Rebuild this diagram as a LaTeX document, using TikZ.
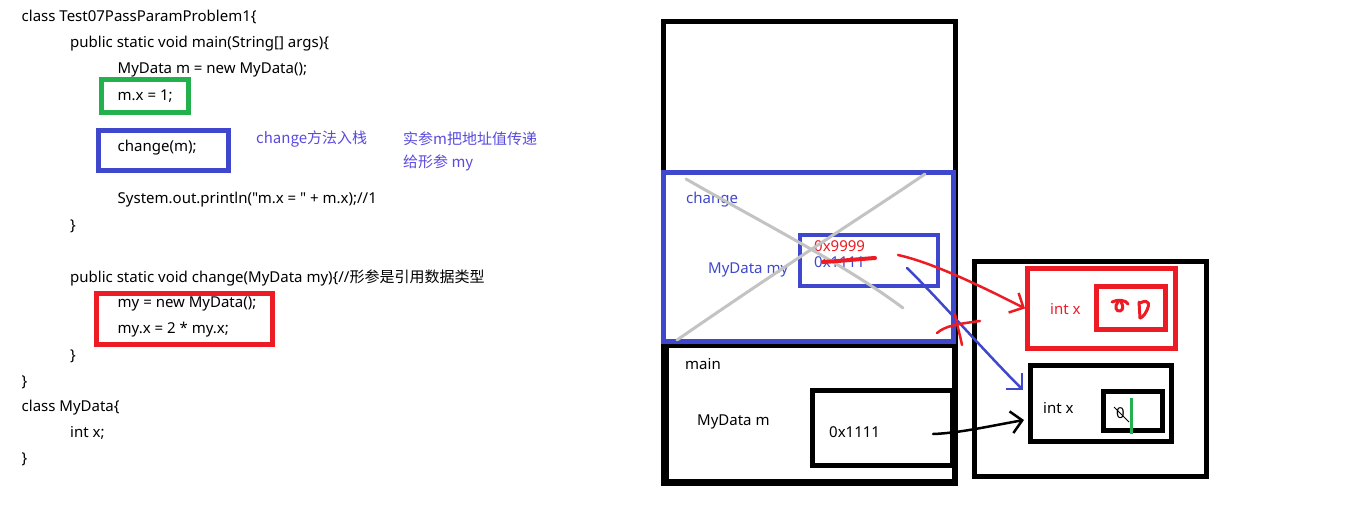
\documentclass[tikz,border=0pt]{standalone}
\usepackage{fontspec}
\setmainfont{Noto Sans}[Ligatures=TeXOff]
\newfontfamily\cjk{Noto Sans CJK SC}
\usetikzlibrary{fit,arrows.meta}
\definecolor{pblue}{HTML}{3F48CC}
\definecolor{pred}{HTML}{ED1C24}
\definecolor{pgreen}{HTML}{22B14C}
\definecolor{tblue}{HTML}{5A4BE0}
\definecolor{xgray}{HTML}{C3C3C3}
\begin{document}
\begin{tikzpicture}[x=1pt,y=-1pt,
  txt/.style={anchor=west, inner sep=0pt, font=\fontsize{15}{18}\selectfont},
  frame/.style={draw, inner sep=0pt, line width=5pt},
  hand/.style={line width=2.5pt, line cap=round, line join=round},
  barb/.style={-{Straight Barb[length=11pt,width=22pt,line width=2.5pt]}}
]
\path[use as bounding box, fill=white] (0,0) rectangle (1352,507);

% ---------- code ----------
\node[txt] (l1) at (21.5,17) {class Test07PassParamProblem1\{};
\node[txt] (l2) at (70,43.5) {public static void main(String[] args)\{};
\node[txt] (l3) at (117.5,69.5) {MyData m = new MyData();};
\node[txt] (l4) at (117.5,96) {m.x = 1;};
\node[txt] (l5) at (117.5,147.5) {change(m);};
\node[txt] (l6) at (117.5,200) {System.out.println("m.x = " + m.x);//1};
\node[txt] (l7) at (70,226) {\}};
\node[txt] (l8) at (70,277.5) {public static void change(MyData my)\{//{\cjk 形参是引用数据类型}};
\node[txt] (l9) at (117.5,303.5) {my = new MyData();};
\node[txt] (l10) at (117.5,329.5) {my.x = 2 * my.x;};
\node[txt] (l11) at (70,356) {\}};
\node[txt] (l12) at (21.5,382) {\}};
\node[txt] (l13) at (21.5,407.5) {class MyData\{};
\node[txt] (l14) at (70,433) {int x;};
\node[txt] (l15) at (21.5,459) {\}};

\node[frame, draw=pgreen, fit={(101.8,79.8) (188.2,112.5)}] (gbox) {};
\node[frame, draw=pblue, fit={(98.5,130.8) (228.2,170.2)}] (bbox) {};
\node[frame, draw=pred, fit={(96.5,293.2) (272.1,344.2)}] (rbox) {};

\node[txt, text=tblue] (n1) at (256,139) {\cjk change方法入栈};
\node[txt, text=tblue] (n2) at (403,139) {\cjk 实参m把地址值传递};
\node[txt, text=tblue] (n3) at (403,163) {\cjk 给形参 my};

% ---------- stack ----------
\node[frame, fit={(663.5,21.5) (955.5,483.5)}] (stack) {};
\node[frame, line width=6pt, fit={(666,345) (955,482)}] (mainf) {};
\node[frame, draw=pblue, fit={(663.5,172.5) (953.5,341)}] (chf) {};
\node[frame, draw=pblue, line width=4pt, fit={(800,235) (938,286)}] (myb) {};
\node[frame, fit={(812.5,390.5) (952,465.5)}] (mb) {};

\node[txt, text=pblue] (t1) at (686,200) {change};
\node[txt, text=pblue] (t2) at (708,269.5) {MyData my};
\node[txt, text=pred] (t3) at (814,246) {0x9999};
\node[txt, text=pblue] (t4) at (814,262.5) {0x1111};
\node[txt] (t5) at (685,364) {main};
\node[txt] (t6) at (697,422) {MyData m};
\node[txt] (t7) at (829,432.5) {0x1111};

\draw[xgray, line width=3pt, line cap=round] (686,179) .. controls (770,227) and (847,266) .. (903,308);
\draw[xgray, line width=3pt, line cap=round] (925,174) .. controls (877,207) and (793,260) .. (677,340);
\draw[pred, line width=4pt, line cap=round] (823,262) .. controls (840,261) and (860,259) .. (875,258);

% ---------- heap ----------
\node[frame, fit={(974.5,261) (1206,476)}] (heap) {};
\node[frame, draw=pred, fit={(1027.5,268.5) (1175,348.5)}] (robj) {};
\node[frame, draw=pred, fit={(1096.5,286.5) (1165.5,329.5)}] (rval) {};
\node[txt, text=pred] (t8) at (1050,309) {int x};
\node[frame, fit={(1030.5,365) (1171.5,441.5)}] (bobj) {};
\node[frame, fit={(1103.5,391.5) (1162.5,430.5)}] (bval) {};
\node[txt] (t9) at (1043,408) {int x};
\node[txt] (t10) at (1116,413) {0};
\draw[line width=1pt] (1114,407) -- (1129,422);
\draw[pgreen, line width=3pt] (1131,398) -- (1131,434);

% red handwriting
\draw[pred, hand, line width=3pt] (1112,302) .. controls (1118,299) and (1126,300) .. (1128,304);
\draw[pred, hand, line width=3pt] (1118,302) .. controls (1114,306) and (1116,312) .. (1120,311) .. controls (1124,310) and (1123,305) .. (1121,302);
\draw[pred, hand, line width=3pt] (1139,302) -- (1140,318);
\draw[pred, hand, line width=3pt] (1140,303) .. controls (1150,298) and (1150,305) .. (1146,312) .. controls (1144,316) and (1141,318) .. (1140,318);

% ---------- arrows ----------
\coordinate (rs) at (898,255);
\coordinate (bs) at (907,268);
\coordinate (bt) at (1023,390);
\coordinate (ks) at (933,434);
\coordinate (kt) at (1024,420);
\draw[pred, hand, barb] (rs) .. controls (930,262) and (975,283) .. (robj.west);
\draw[pblue, hand, barb] (bs) .. controls (935,295) and (985,352) .. (bt);
\draw[hand, barb] (ks) .. controls (960,433) and (990,426) .. (kt);
% red cross mark
\draw[pred, hand] (937,333) .. controls (945,326) and (957,324) .. (980,321);
\draw[pred, hand] (955,314) .. controls (957,325) and (960,335) .. (962,345);
\end{tikzpicture}
\end{document}
